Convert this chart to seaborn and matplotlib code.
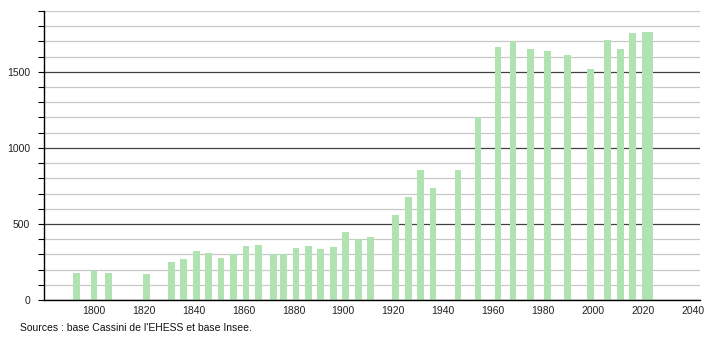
import matplotlib
matplotlib.use("Agg")
import matplotlib.pyplot as plt
import seaborn as sns
import pandas as pd
from matplotlib.ticker import MultipleLocator, FixedLocator, FixedFormatter

years = [1793, 1800, 1806, 1821, 1831, 1836, 1841, 1846, 1851, 1856,
         1861, 1866, 1872, 1876, 1881, 1886, 1891, 1896, 1901, 1906,
         1911, 1921, 1926, 1931, 1936, 1946, 1954, 1962, 1968, 1975,
         1982, 1990, 1999, 2006, 2011, 2016, 2021, 2023]
population = [176, 193, 176, 171, 250, 270, 322, 309, 278, 303,
              355, 362, 303, 303, 344, 355, 338, 349, 449, 399,
              414, 557, 678, 855, 735, 855, 1202, 1664, 1700, 1649,
              1638, 1612, 1520, 1711, 1649, 1757, 1763, 1763]
x_ticks = list(range(1800, 2041, 20))
y_major = [0, 500, 1000, 1500]
source_text = "Sources : base Cassini de l'EHESS et base Insee."

df = pd.DataFrame({"year": years, "pop": population})

sns.set_style("white")
plt.rcParams["font.family"] = ["Liberation Sans", "DejaVu Sans"]

fig = plt.figure(figsize=(7.1, 3.4), dpi=100)
ax = fig.add_axes([44 / 710, 40 / 340, (700 - 44) / 710, (300 - 11) / 340])

# grid lines
ax.set_axisbelow(True)
sns.barplot(data=df, x="year", y="pop", native_scale=True, width=1.35,
            color="#b1e2b1", saturation=1, errorbar=None, ax=ax,
            edgecolor="none", linewidth=0, zorder=3)

ax.set_xlim(1780, 2043)
ax.set_ylim(0, 1900)

ax.yaxis.set_major_locator(FixedLocator(y_major))
ax.yaxis.set_minor_locator(MultipleLocator(100))
ax.grid(False)
ax.yaxis.grid(True, which="minor", color="#c8c8c8", linewidth=0.9, zorder=0)
ax.yaxis.grid(True, which="major", color="#404040", linewidth=0.9, zorder=1)

ax.set_xticks(x_ticks)
ax.set_xticklabels([str(v) for v in x_ticks])
ax.tick_params(axis="x", which="both", length=0, pad=4, labelsize=7.5, colors="#222222")
ax.tick_params(axis="y", which="both", left=True, length=4, width=0.8, direction="out",
               pad=6, labelsize=7.5, colors="#222222")
ax.tick_params(axis="y", which="major", color="black")
ax.tick_params(axis="y", which="minor", color="black")

for s in ["top", "right"]:
    ax.spines[s].set_visible(False)
for s in ["left", "bottom"]:
    ax.spines[s].set_color("black")
    ax.spines[s].set_linewidth(1.0)
    ax.spines[s].set_zorder(5)

ax.set_xlabel("")
ax.set_ylabel("")

fig.text(20 / 710, 1 - 328 / 340, source_text, fontsize=7.5, color="#111111",
         ha="left", va="center")

fig.savefig("out.png", dpi=100)
